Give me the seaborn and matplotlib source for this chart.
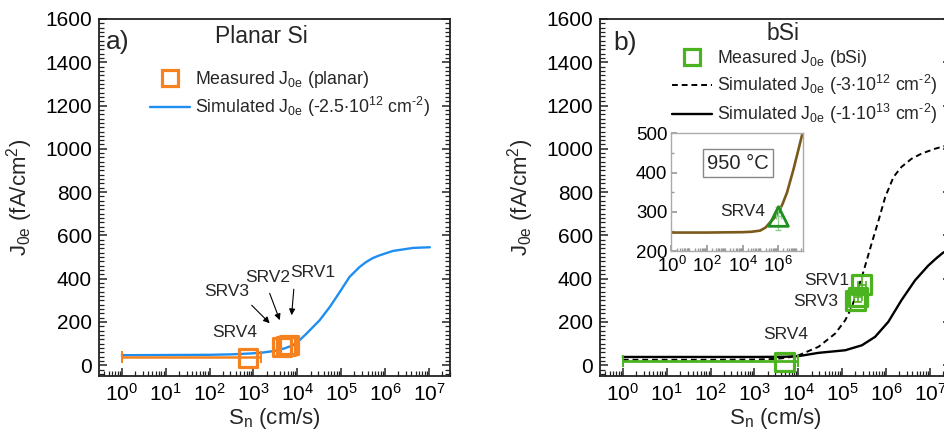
import numpy as np
import matplotlib
matplotlib.use("Agg")
import matplotlib.pyplot as plt
from matplotlib.lines import Line2D
from matplotlib.ticker import AutoMinorLocator, LogLocator, FixedLocator, NullFormatter
import seaborn as sns

# ---------------- data (log10 of S_n, J0e in fA/cm2) ----------------
planar_logS = [0, 1, 2, 2.5, 2.92, 3.2, 3.45, 3.7, 3.9, 4.05, 4.21, 4.51, 4.74, 4.97, 5.19, 5.42, 5.57, 5.72, 5.88, 6.18, 6.64, 7.02]
planar_J = [46, 47, 48, 50, 54, 58, 65, 77, 92, 115, 146, 208, 269, 339, 408, 454, 477, 495, 508, 528, 542, 545]

planar_meas_S = [750, 4500, 5500, 6500]
planar_meas_J = [35, 85, 90, 95]
planar_err_S = 750
planar_err_J = 38
planar_err_lo = 749
planar_err_hi = 750

bsi_dash_logS = [0, 1, 2, 3, 3.5, 3.75, 4.01, 4.46, 4.84, 5.07, 5.22, 5.45, 5.67, 5.83, 5.98, 6.17, 6.35, 6.58, 6.81, 7.11, 7.3, 7.5]
bsi_dash_J = [25, 25, 25, 26, 29, 35, 46, 85, 146, 208, 269, 408, 562, 670, 777, 870, 916, 954, 978, 1000, 1011, 1018]

bsi_solid_logS = [0, 3, 3.7, 4.01, 4.46, 5.07, 5.45, 5.75, 6.05, 6.35, 6.66, 6.96, 7.15, 7.3, 7.5]
bsi_solid_J = [38, 38, 39, 42, 57, 69, 92, 131, 200, 300, 392, 460, 495, 520, 540]

bsi_meas_S = [4900, 200000, 230000, 280000]
bsi_meas_J = [15, 300, 315, 372]
bsi_err_S = 4900
bsi_err_J = 20
bsi_err_lo = 4899
bsi_err_hi = 4900
bsi_v_S = [230000, 280000]
bsi_v_J = [315, 372]
bsi_v_err = [25, 45]

inset_logS = [0, 2, 4, 4.5, 4.99, 5.3, 5.55, 5.8, 6.02, 6.25, 6.5, 6.87, 7.25, 7.4]
inset_J = [247, 247, 248, 249, 252, 260, 273, 285, 298, 320, 349, 409, 478, 505]
inset_tri_S = [1.05e6]
inset_tri_J = [288]

# ---------------- style ----------------
sns.set_theme(style="ticks")
plt.rcParams["font.family"] = ["Liberation Sans", "DejaVu Sans"]
plt.rcParams["mathtext.fontset"] = "custom"
plt.rcParams["mathtext.rm"] = "Liberation Sans"
plt.rcParams["mathtext.it"] = "Liberation Sans:italic"
plt.rcParams["mathtext.default"] = "regular"

BLUE = "#1f8ef1"
ORANGE = "#f5821f"
GREEN = "#4cb320"
BROWN = "#7a5a1c"
DKGREEN = "#1f8f1f"
SPINE = "#222222"
HY = "\u2010"

fig = plt.figure(figsize=(9.45, 4.37), dpi=100)
W, H = 945.0, 437.0
axA = fig.add_axes([99 / W, (H - 376) / H, 351 / W, 357 / H])
axB = fig.add_axes([600 / W, (H - 376) / H, 351 / W, 357 / H])


def style_main(ax):
    ax.set_xscale("log")
    ax.set_xlim(10 ** -0.52, 10 ** 7.48)
    ax.set_ylim(-50, 1600)
    ax.set_yticks(np.arange(0, 1601, 200))
    ax.yaxis.set_minor_locator(AutoMinorLocator(10))
    ax.xaxis.set_major_locator(LogLocator(base=10, numticks=20))
    ax.xaxis.set_minor_locator(LogLocator(base=10, subs=np.arange(2, 10), numticks=20))
    ax.xaxis.set_minor_formatter(NullFormatter())
    for s in ax.spines.values():
        s.set_color(SPINE)
        s.set_linewidth(1.3)
    ax.tick_params(axis="both", which="both", direction="in", colors=SPINE, labelcolor="black")
    ax.tick_params(axis="y", which="both", left=True, right=True)
    ax.tick_params(axis="x", which="both", bottom=True, top=False)
    ax.tick_params(which="major", length=6, width=1.1, labelsize=15, pad=5)
    ax.tick_params(which="minor", length=3.5, width=0.9)
    ax.set_xlabel(r"S$_{\rm n}$ (cm/s)", fontsize=16, labelpad=1)
    ax.set_ylabel(r"J$_{\rm 0e}$ (fA/cm$^2$)", fontsize=16, labelpad=7)


# ---------------- panel a ----------------
style_main(axA)
sns.lineplot(x=np.power(10.0, planar_logS), y=planar_J, ax=axA, color=BLUE, linewidth=1.7)
axA.errorbar([planar_err_S], [planar_err_J], xerr=[[planar_err_lo], [planar_err_hi]],
             fmt="none", ecolor=ORANGE, elinewidth=1.8, capsize=4, capthick=1.4)
sns.scatterplot(x=planar_meas_S, y=planar_meas_J, ax=axA, marker="s", s=170,
                facecolor="none", edgecolor=ORANGE, linewidth=2.3, zorder=5)

axA.text(0.054, 0.936, "a)", transform=axA.transAxes, fontsize=19, ha="center", va="center")
axA.text(0.464, 0.95, "Planar Si", transform=axA.transAxes, fontsize=16.5, ha="center", va="center")

for lbl, xl, yl in [("SRV4", 2.57, 152), ("SRV3", 2.39, 342), ("SRV2", 3.33, 406), ("SRV1", 4.35, 429)]:
    axA.text(10 ** xl, yl, lbl, fontsize=12.5, ha="center", va="center")
for (x0, y0), (x1, y1) in [((2.96, 277), (3.37, 194)), ((3.37, 332), (3.60, 208)), ((3.92, 351), (3.87, 231))]:
    axA.annotate("", xy=(10 ** x1, y1), xytext=(10 ** x0, y0),
                 arrowprops=dict(arrowstyle="-|>", color="black", lw=0.8, mutation_scale=9, shrinkA=0, shrinkB=0))

hA = [Line2D([], [], marker="s", linestyle="none", markersize=12, markerfacecolor="none",
             markeredgecolor=ORANGE, markeredgewidth=2.3),
      Line2D([], [], color=BLUE, linewidth=1.7)]
lA = [r"Measured J$_{\rm 0e}$ (planar)",
      r"Simulated J$_{\rm 0e}$ (-2.5$\cdot$10$^{12}$ cm$^{" + HY + r"2}$)"]
axA.legend(hA, lA, loc="center left", bbox_to_anchor=(0.145, 0.79), frameon=False, fontsize=12.8,
           handlelength=2.25, handletextpad=0.3, labelspacing=0.3, borderpad=0, borderaxespad=0)

# ---------------- panel b ----------------
style_main(axB)
sns.lineplot(x=np.power(10.0, bsi_dash_logS), y=bsi_dash_J, ax=axB, color="black", linewidth=1.4,
             linestyle=(0, (3, 2)))
sns.lineplot(x=np.power(10.0, bsi_solid_logS), y=bsi_solid_J, ax=axB, color="black", linewidth=1.7)
axB.errorbar([bsi_err_S], [bsi_err_J], xerr=[[bsi_err_lo], [bsi_err_hi]],
             fmt="none", ecolor=GREEN, elinewidth=2.0, capsize=4, capthick=1.4)
axB.errorbar(bsi_v_S, bsi_v_J, yerr=bsi_v_err, xerr=[[40000, 50000], [60000, 70000]],
             fmt="none", ecolor=GREEN, elinewidth=1.2, capsize=3, capthick=1.2)
sns.scatterplot(x=bsi_meas_S, y=bsi_meas_J, ax=axB, marker="s", s=180,
                facecolor="none", edgecolor=GREEN, linewidth=2.3, zorder=5)

axB.text(0.071, 0.933, "b)", transform=axB.transAxes, fontsize=19, ha="center", va="center")
axB.text(0.521, 0.958, "bSi", transform=axB.transAxes, fontsize=16.5, ha="center", va="center")
for lbl, xl, yl in [("SRV1", 4.65, 392), ("SRV3", 4.39, 296), ("SRV4", 3.72, 143)]:
    axB.text(10 ** xl, yl, lbl, fontsize=12.5, ha="center", va="center")

hB = [Line2D([], [], marker="s", linestyle="none", markersize=12, markerfacecolor="none",
             markeredgecolor=GREEN, markeredgewidth=2.3),
      Line2D([], [], color="black", linewidth=1.4, linestyle=(0, (3, 2))),
      Line2D([], [], color="black", linewidth=1.7)]
lB = [r"Measured J$_{\rm 0e}$ (bSi)",
      r"Simulated J$_{\rm 0e}$ (-3$\cdot$10$^{12}$ cm$^{" + HY + r"2}$)",
      r"Simulated J$_{\rm 0e}$ (-1$\cdot$10$^{13}$ cm$^{" + HY + r"2}$)"]
axB.legend(hB, lB, loc="center left", bbox_to_anchor=(0.205, 0.81), frameon=False, fontsize=12.8,
           handlelength=2.25, handletextpad=0.3, labelspacing=0.25, borderpad=0, borderaxespad=0)

# ---------------- inset ----------------
axI = fig.add_axes([671.5 / W, (H - 251) / H, 131.5 / W, 117.7 / H])
axI.set_xscale("log")
axI.set_xlim(1, 10 ** 7.4)
axI.set_ylim(200, 500)
axI.set_yticks([200, 300, 400, 500])
axI.yaxis.set_minor_locator(AutoMinorLocator(2))
axI.xaxis.set_major_locator(FixedLocator([1, 1e2, 1e4, 1e6]))
axI.xaxis.set_minor_locator(LogLocator(base=10, subs=np.arange(1, 10), numticks=30))
axI.xaxis.set_minor_formatter(NullFormatter())
for s in axI.spines.values():
    s.set_color("#aaaaaa")
    s.set_linewidth(1.0)
axI.tick_params(axis="both", which="both", direction="in", colors="#999999", labelcolor="black")
axI.tick_params(which="major", length=4, labelsize=13.5)
axI.tick_params(axis="x", which="major", pad=3.5)
axI.tick_params(axis="y", which="major", pad=3)
axI.tick_params(which="minor", length=2)
sns.lineplot(x=np.power(10.0, inset_logS), y=inset_J, ax=axI, color=BROWN, linewidth=1.9)
axI.errorbar(inset_tri_S, inset_tri_J, yerr=[[34], [23]], xerr=[[3e5], [4e5]], fmt="none",
             ecolor="#8fd08f", elinewidth=0.9, capsize=2)
sns.scatterplot(x=inset_tri_S, y=inset_tri_J, ax=axI, marker="^", s=200, facecolor="none",
                edgecolor=DKGREEN, linewidth=2.0, zorder=5)
axI.text(0.538, 0.334, "SRV4", transform=axI.transAxes, fontsize=12.5, ha="center", va="center")
axI.text(0.507, 0.745, "950 °C", transform=axI.transAxes, fontsize=14.5, ha="center", va="center",
         bbox=dict(boxstyle="square,pad=0.22", facecolor="white", edgecolor="#888888", linewidth=1.0))
axI.set_xlabel("")
axI.set_ylabel("")

fig.savefig("out.png", dpi=100)
